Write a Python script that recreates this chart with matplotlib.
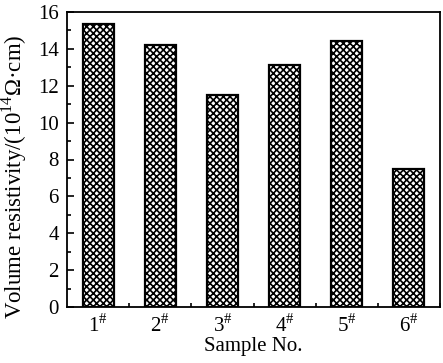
import numpy as np
import matplotlib.pyplot as plt
from matplotlib.ticker import MultipleLocator

plt.rcParams['font.family'] = ['Liberation Serif', 'DejaVu Serif']
plt.rcParams['mathtext.fontset'] = 'custom'
plt.rcParams['mathtext.rm'] = 'Liberation Serif'
plt.rcParams['hatch.linewidth'] = 1.2

samples = ['1', '2', '3', '4', '5', '6']
resistivity = [15.33, 14.22, 11.52, 13.12, 14.42, 7.5]

fig = plt.figure(figsize=(4.43, 3.63), dpi=100)
ax = fig.add_axes([67/443, 1-307/363, 373/443, 295/363])

x = np.arange(1, len(samples)+1)
ax.bar(x, resistivity, width=0.5, color='white', edgecolor='black',
       linewidth=1.6, hatch='xxxxx')

ax.set_xlim(0.5, 6.5)
ax.set_ylim(0, 16)
ax.set_xticks(x)
ax.set_xticklabels([s + r'$^{\#}$' for s in samples])
ax.set_xticks(x + 0.5, minor=True)
ax.yaxis.set_major_locator(MultipleLocator(2))
ax.yaxis.set_minor_locator(MultipleLocator(1))
ax.tick_params(which='both', direction='in', labelsize=15, width=1.2)
ax.tick_params(which='major', length=5, pad=6)
ax.tick_params(which='minor', length=3)
ax.tick_params(axis='x', which='major', length=0, pad=5)
for sp in ax.spines.values():
    sp.set_linewidth(1.3)

ax.set_xlabel('Sample No.', fontsize=15, labelpad=0)
ax.set_ylabel(r'Volume resistivity/(10$^{14}$Ω·cm)', fontsize=16.5)
ax.yaxis.set_label_coords(-0.103, 0.44)

fig.savefig('out.png', dpi=100)
